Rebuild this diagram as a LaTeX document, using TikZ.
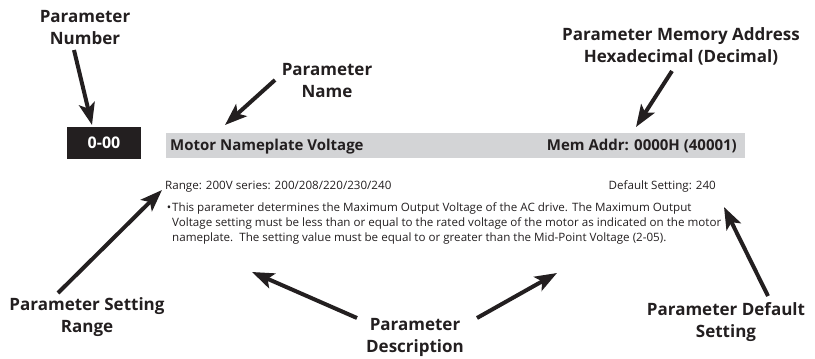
\documentclass[tikz,border=0pt]{standalone}
\usepackage{fontspec}
\setmainfont{Open Sans}
\newfontfamily\widefont[FakeStretch=1.01]{Open Sans}
\usetikzlibrary{arrows.meta}

\definecolor{inkgray}{HTML}{231F20}
\definecolor{bargray}{HTML}{D3D4D6}

\tikzstyle{callout} = [font=\fontsize{17}{22}\selectfont\bfseries,align=center,text=inkgray,anchor=base,inner sep=0pt]
\tikzstyle{bartext} = [font=\fontsize{15}{17}\selectfont\bfseries,text=inkgray,inner sep=0pt]
\tikzstyle{smalltext} = [font=\widefont\fontsize{11.5}{14.7}\selectfont,text=inkgray,inner sep=0pt]
\tikzstyle{pointer} = [draw=inkgray,line width=4pt,-{Stealth[length=22pt,width=16pt,inset=5pt]}]

\begin{document}
\begin{tikzpicture}[x=1pt,y=-1pt]
      \useasboundingbox (0,0) rectangle (815,359);

      %% parameter line
      \node (numbox) at (104,143) [fill=inkgray,minimum width=74pt,minimum height=32pt,inner sep=0pt,
        text=white,font=\fontsize{16}{18}\selectfont\bfseries] {0-00};
      \node (bar) at (166,133) [anchor=north west,fill=bargray,minimum width=579pt,minimum height=25pt,inner sep=0pt] {};
      \node (pname) at (170,150.5) [bartext,anchor=base west] {Motor Nameplate Voltage};
      \node (paddr) at (737,150.5) [bartext,anchor=base east] {Mem Addr: 0000H (40001)};

      %% range, default and description
      \node (prange) at (165,189) [smalltext,anchor=base west] {Range: 200V series: 200/208/220/230/240};
      \node (pdefault) at (716,189) [smalltext,anchor=base east] {Default Setting: 240};
      \node (pdesc) at (172,241) [smalltext,anchor=base west,align=left]
        {\llap{\textbullet\kern1pt}This parameter determines the Maximum Output Voltage of the AC drive. The Maximum Output\\
         Voltage setting must be less than or equal to the rated voltage of the motor as indicated on the motor\\
         nameplate.\ \ The setting value must be equal to or greater than the Mid-Point Voltage (2-05).};

      %% callouts
      \foreach \nodename/\x/\y/\first/\second in {num/85/44/Parameter/Number,
        name/327/97/Parameter/Name, mem/681/62/Parameter Memory Address/Hexadecimal (Decimal),
        range/87/332/Parameter Setting/Range, desc/415/352/Parameter/Description,
        deflt/726/337/Parameter Default/Setting}
      {
        \node (\nodename) at (\x,\y) [callout] {\first\\\second};
      }

      %% pointers
      \foreach \tailname/\tipname/\tx/\ty/\hx/\hy in {numtail/numtip/74/50/92/125,
        nametail/nametip/275/80/225/125, memtail/memtip/672/71/636/127,
        rangetail/rangetip/58/293/162/190, desctailL/desctipL/357/318/252/272,
        desctailR/desctipR/477/318/557/273, deflttail/deflttip/768/296/724/207}
      {
        \coordinate (\tailname) at (\tx,\ty);
        \coordinate (\tipname) at (\hx,\hy);
        \draw[pointer] (\tailname) -- (\tipname);
      }
\end{tikzpicture}
\end{document}
